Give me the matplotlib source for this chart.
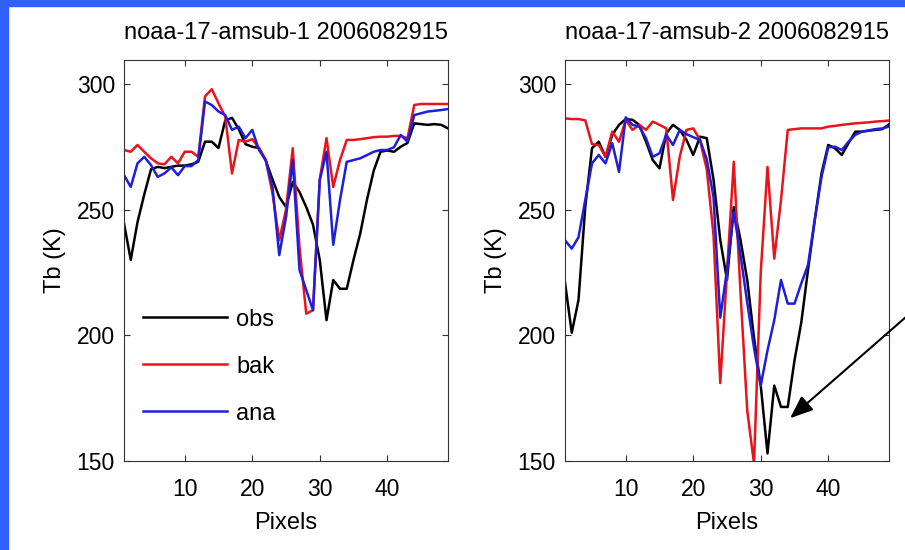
import numpy as np
import matplotlib
matplotlib.use("Agg")
import matplotlib.pyplot as plt
from matplotlib.patches import Rectangle

plt.rcParams['font.family'] = ['Liberation Sans', 'DejaVu Sans']

# pixel index along the scan line
pix = np.arange(1, 50)

# channel 1 (noaa-17-amsub-1)
obs_1 = [244.5, 230, 245, 256, 266, 267, 266.5, 267, 267.5, 267.5,
         268, 269, 277, 277, 274.5, 285.5, 286.5, 282, 276, 275,
         274.5, 269.5, 262, 255, 251, 261, 257, 251, 244, 230,
         206, 222, 218.5, 218.5, 230, 240.5, 254, 265.5, 273, 273.5,
         273, 275, 276.5, 284.3, 284, 283.7, 284, 283.7, 282.3]
bak_1 = [273.7, 273, 275.7, 273, 270.4, 268.4, 268, 271, 268.4, 273,
         273, 271, 295, 297.9, 292.3, 287, 264.4, 277.7, 277, 278,
         274.4, 269.7, 256.4, 237.8, 250, 274.4, 235, 208.6, 210, 262,
         278.4, 259, 269.7, 277.7, 277.7, 278, 278.4, 278.8, 279, 279,
         279.3, 279.3, 278.4, 291.6, 292, 292, 292, 292, 292]
ana_1 = [263.7, 259, 268.4, 271, 267.7, 263, 264.4, 266.8, 263.7, 267.3,
         267.3, 269.7, 293, 291.6, 289, 287.6, 281.7, 283, 278.4, 281.7,
         273.7, 269.7, 259, 231.9, 247, 269.7, 226, 218, 210, 261.7,
         273, 236, 253.8, 269, 269.7, 270.4, 271.7, 273, 273.7, 273.7,
         274.8, 279.7, 277, 287.6, 288.3, 289, 289.3, 289.6, 290]

# channel 2 (noaa-17-amsub-2)
obs_2 = [221, 201, 214, 251, 274.4, 277, 271, 279.7, 283.7, 286,
         285.7, 283.7, 277, 269.7, 266.4, 280.3, 283.7, 281.7, 277.7, 271.7,
         279, 278.4, 262, 238, 222, 251, 238, 222, 199, 180,
         153, 180, 171.5, 171.5, 190, 205, 226, 245.8, 264.4, 275.7,
         274.4, 271.7, 276.4, 281, 281, 281.4, 281.7, 282, 283.9]
bak_2 = [286.3, 286, 286, 285.5, 276, 275.7, 271, 281, 277, 285.7,
         281.7, 283.7, 281.7, 285, 283.7, 282.3, 253.8, 271, 281.7, 282.3,
         277.7, 266, 240, 181, 225, 269, 217, 170, 149, 225,
         267, 230.5, 253.8, 281.7, 282, 282.3, 282.3, 282.3, 282.3, 283,
         283.3, 283.7, 284, 284.3, 284.5, 284.7, 285, 285.2, 285.4]
ana_2 = [237.8, 234.5, 239, 253.8, 268.4, 271.7, 268.4, 276.4, 265, 286.7,
         283.7, 283, 278.4, 271, 272.4, 279.7, 275.7, 281.7, 280, 278.8,
         277.7, 270, 255, 207, 226, 249, 232, 213, 195, 180,
         194, 206, 222, 212.6, 212.6, 220.6, 228, 246, 263, 274.8,
         275, 273.7, 277, 279.7, 281, 281.5, 282, 282.3, 283]

titles = ['noaa-17-amsub-1 2006082915', 'noaa-17-amsub-2 2006082915']
labels = ['obs', 'bak', 'ana']
colors = ['black', '#e8141c', '#1e1edc']

fig = plt.figure(figsize=(9.05, 5.5), dpi=100, facecolor='white')
# blue slide border (top and left)
fig.patches.append(Rectangle((0, 1 - 6/550), 1, 6/550, transform=fig.transFigure,
                             color='#3060ff', zorder=0))
fig.patches.append(Rectangle((0, 0), 8/905, 1, transform=fig.transFigure,
                             color='#3060ff', zorder=0))

ax1 = fig.add_axes([124/905, 89/550, 324/905, 401/550])
ax2 = fig.add_axes([565/905, 89/550, 324/905, 401/550])

data = [(obs_1, bak_1, ana_1), (obs_2, bak_2, ana_2)]
for ax, t, series in zip([ax1, ax2], titles, data):
    for y, c, lab in zip(series, colors, labels):
        ax.plot(pix, y, color=c, lw=1.8, label=lab)
    ax.set_xlim(1, 49)
    ax.set_ylim(150, 309.5)
    ax.set_xticks([10, 20, 30, 40])
    ax.set_yticks([150, 200, 250, 300])
    ax.tick_params(direction='in', length=4.3, width=0.8, top=True, right=True,
                   labelsize=16.5, color='#333333')
    ax.tick_params(axis='x', pad=12)
    ax.tick_params(axis='y', pad=6.5)
    for s in ax.spines.values():
        s.set_color('#333333')
        s.set_linewidth(0.8)
    ax.set_title(t, fontsize=17, pad=15)
    ax.set_xlabel('Pixels', fontsize=17, labelpad=8)
    ax.set_ylabel('Tb (K)', fontsize=17, labelpad=7.5)

ax1.legend(loc='upper left', bbox_to_anchor=(0.0586, 0.38), frameon=False,
           borderaxespad=0, borderpad=0, fontsize=17, handlelength=3.56,
           handletextpad=0.38, labelspacing=1.06)

# arrow pointing at the obs minimum
ax2.annotate('', xy=(788, 130), xycoords='figure pixels',
             xytext=(930, 254), textcoords='figure pixels',
             annotation_clip=False,
             arrowprops=dict(arrowstyle='-|>,head_length=0.7,head_width=0.28',
                             mutation_scale=20, lw=1.5, color='black'))

fig.savefig('out.png', dpi=100, facecolor=fig.get_facecolor())
